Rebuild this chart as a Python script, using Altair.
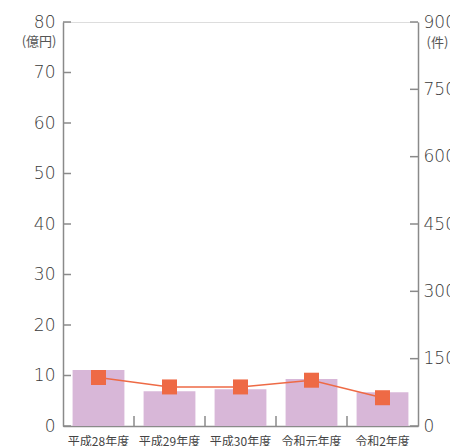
import altair as alt
import pandas as pd

years = ["平成28年度", "平成29年度", "平成30年度", "令和元年度", "令和2年度"]
amount = [11.1, 6.9, 7.3, 9.3, 6.7]      # 億円 (bars, left axis)
cases = [108, 87, 87, 102, 63]           # 件 (line, right axis)
left_ticks = [0, 10, 20, 30, 40, 50, 60, 70, 80]
right_ticks = [0, 150, 300, 450, 600, 750, 900]

W, H = 355, 404
FONT = "Noto Sans CJK JP"
NUM_FONT = "DejaVu Sans"
LABEL_C = "#3a3a3a"
AXIS_C = "#8a8a8a"
BAR_C = "#d8b7d8"
LINE_C = "#ee6a45"

df = pd.DataFrame({"year": years, "amount": amount, "cases": cases})
lt = pd.DataFrame({"v": left_ticks})
rt = pd.DataFrame({"v": right_ticks})
xt = pd.DataFrame({"year": years[1:]})

xscale = alt.Scale(domain=years, paddingInner=0, paddingOuter=0)
yl = alt.Scale(domain=[0, 80], nice=False)
yr = alt.Scale(domain=[0, 900], nice=False)

xaxis = alt.Axis(title=None, ticks=False, labelAngle=0, labelFont=FONT, labelFontSize=12,
                 labelColor="#444444", labelPadding=10, domainColor=AXIS_C, domainWidth=1.5)

bars = alt.Chart(df).mark_bar(color=BAR_C, width=alt.RelativeBandSize(0.73)).encode(
    x=alt.X("year:N", scale=xscale, axis=xaxis, sort=years),
    y=alt.Y("amount:Q", scale=yl, axis=alt.Axis(
        values=left_ticks, ticks=False, grid=False, labelFont=NUM_FONT, labelFontSize=17,
        labelFontWeight=200, labelColor=LABEL_C, labelPadding=8, domainColor=AXIS_C,
        domainWidth=1.5, title="(億円)", titleAngle=0, titleX=-7, titleY=19,
        titleAlign="right", titleBaseline="middle", titleFont=FONT, titleFontSize=13,
        titleFontWeight="normal", titleColor="#555555")),
)

lticks = alt.Chart(lt).mark_rule(color=AXIS_C, strokeWidth=1.5).encode(
    y=alt.Y("v:Q", scale=yl, axis=None), x=alt.value(0), x2=alt.value(8))

line = alt.Chart(df).mark_line(color=LINE_C, strokeWidth=1.5).encode(
    x=alt.X("year:N", scale=xscale, sort=years),
    y=alt.Y("cases:Q", scale=yr, axis=None))

pts = alt.Chart(df).mark_square(color=LINE_C, size=225, opacity=1).encode(
    x=alt.X("year:N", scale=xscale, sort=years),
    y=alt.Y("cases:Q", scale=yr, axis=alt.Axis(
        orient="right", values=right_ticks, ticks=False, grid=False, labelFont=NUM_FONT,
        labelFontSize=17, labelFontWeight=200, labelColor=LABEL_C, labelPadding=5,
        domainColor=AXIS_C, domainWidth=1.5, title="(件)", titleAngle=0, titleX=19,
        titleY=20, titleAlign="center", titleBaseline="middle", titleFont=FONT,
        titleFontSize=13, titleFontWeight="normal", titleColor="#555555")))

rticks = alt.Chart(rt).mark_rule(color=AXIS_C, strokeWidth=1.5).encode(
    y=alt.Y("v:Q", scale=yr, axis=None), x=alt.value(W - 8), x2=alt.value(W))

xticks = alt.Chart(xt).mark_rule(color=AXIS_C, strokeWidth=1.5).encode(
    x=alt.X("year:N", scale=xscale, bandPosition=0, sort=years),
    y=alt.value(H), y2=alt.value(H - 10))

chart = alt.layer(bars, lticks, xticks, line, pts, rticks).resolve_scale(
    y="independent"
).properties(
    width=W, height=H,
    autosize=alt.AutoSizeParams(type="none"),
    padding={"left": 55, "top": 14, "right": 32, "bottom": 30},
).configure_view(stroke=None).configure(background="white")

chart.save("out.html", embed_options={"renderer": "svg", "actions": False})
